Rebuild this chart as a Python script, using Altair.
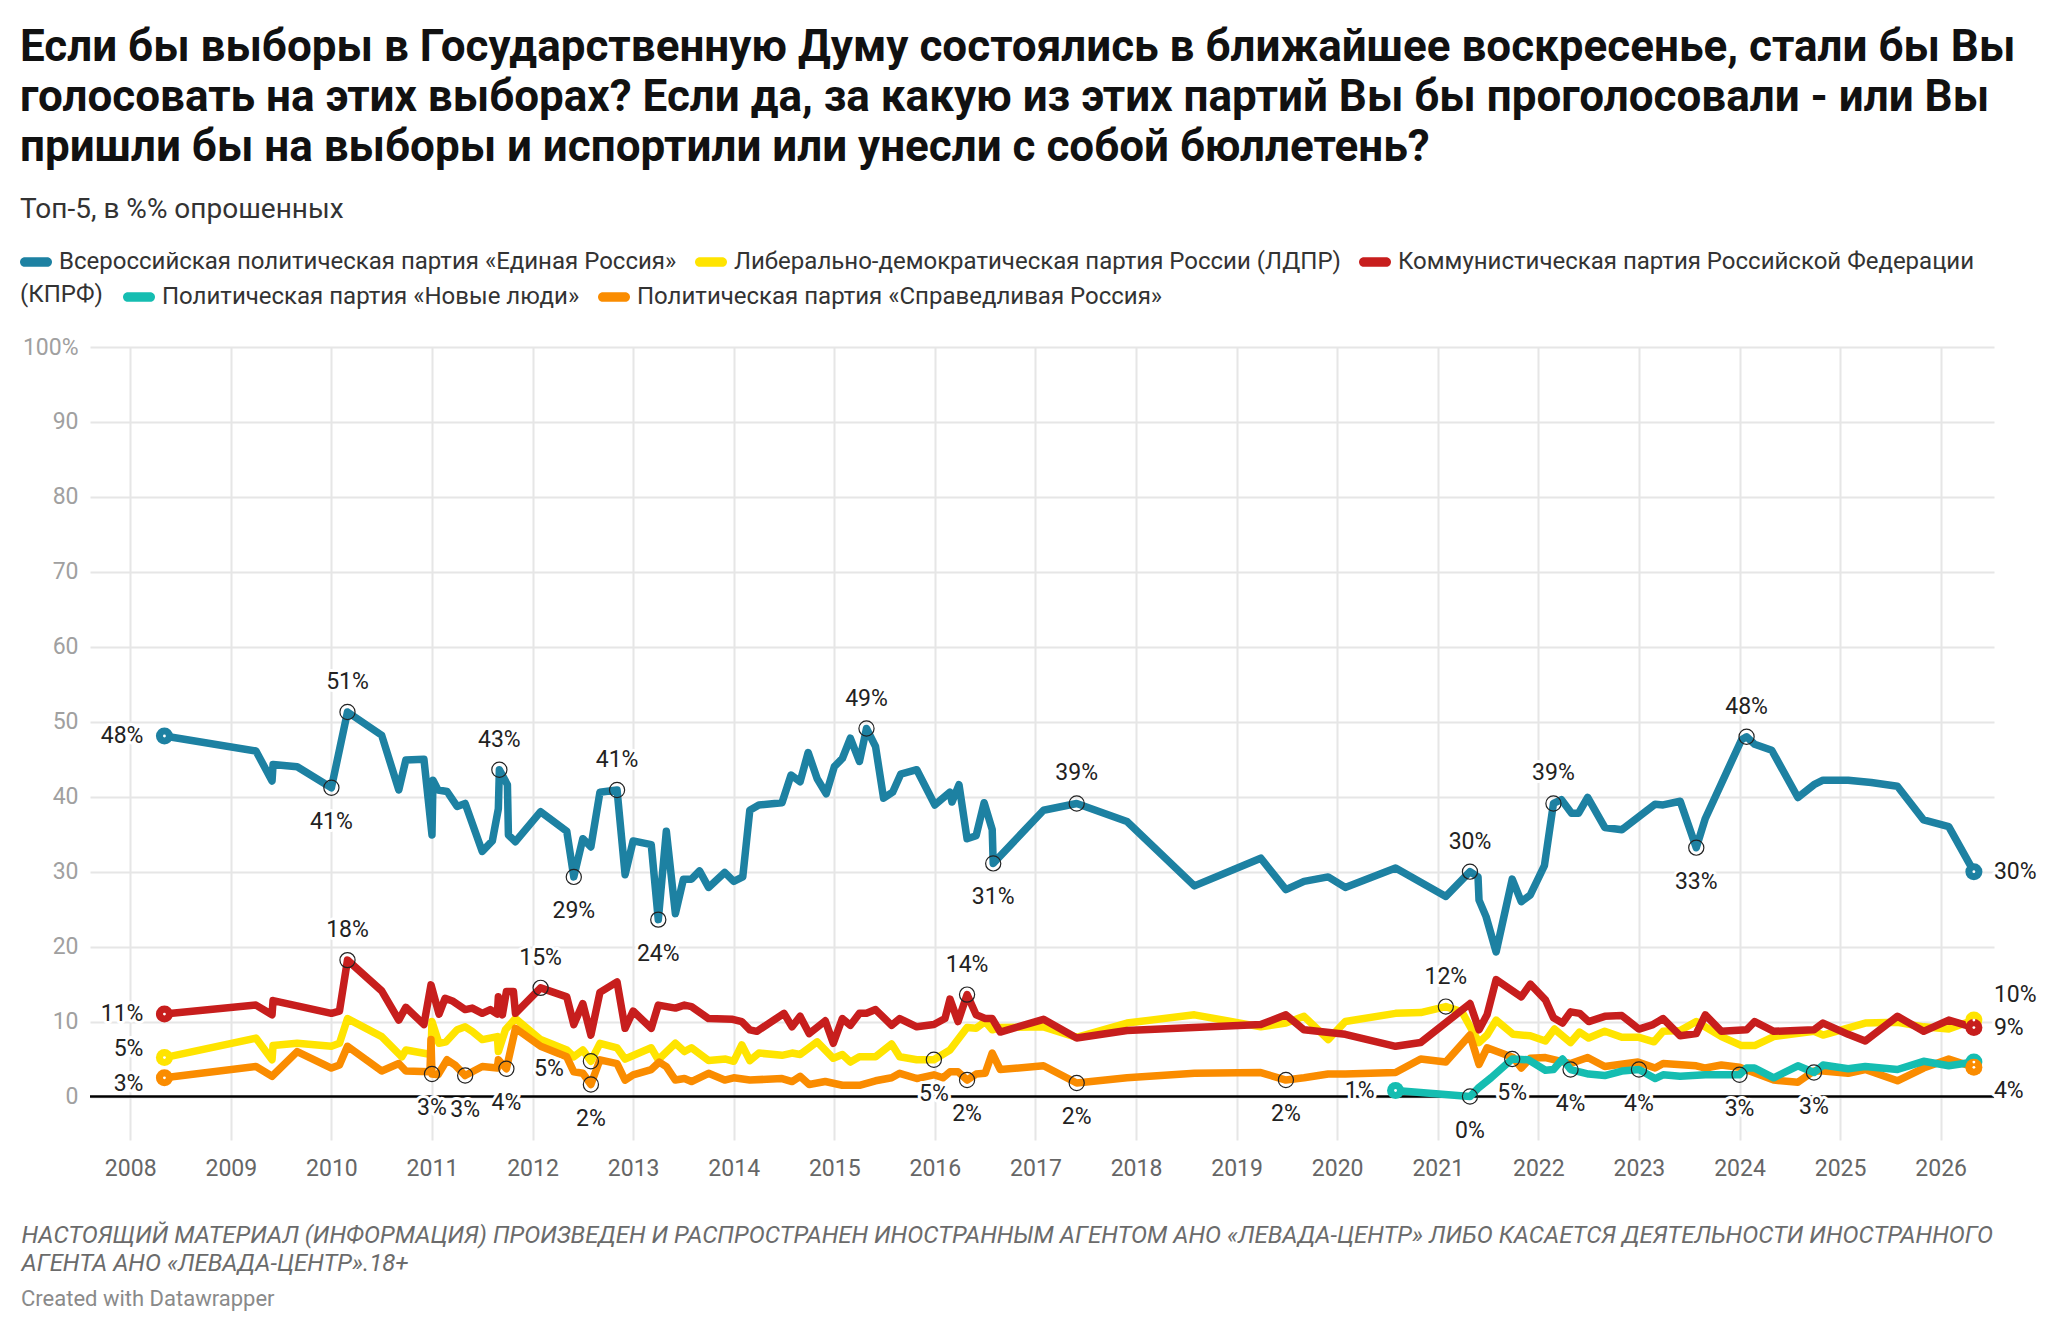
import altair as alt
import pandas as pd

# ---------------- data ----------------
series_names = [
    "Всероссийская политическая партия «Единая Россия»",
    "Либерально-демократическая партия России (ЛДПР)",
    "Коммунистическая партия Российской Федерации (КПРФ)",
    "Политическая партия «Новые люди»",
    "Политическая партия «Справедливая Россия»",
]
series_colors = ["#1d81a2", "#ffe400", "#c71e1d", "#15bdb1", "#fa8c00"]

er_dates = [2008.34, 2009.25, 2009.41, 2009.42, 2009.66, 2010.0, 2010.16, 2010.5, 2010.67, 2010.74,
            2010.92, 2011.0, 2011.01, 2011.06, 2011.15, 2011.25, 2011.33, 2011.5, 2011.6, 2011.66,
            2011.67, 2011.75, 2011.76, 2011.83, 2012.08, 2012.34, 2012.41, 2012.5, 2012.58, 2012.67,
            2012.84, 2012.92, 2013.0, 2013.18, 2013.25, 2013.33, 2013.42, 2013.5, 2013.58, 2013.66,
            2013.75, 2013.91, 2014.0, 2014.09, 2014.16, 2014.25, 2014.48, 2014.57, 2014.66, 2014.74,
            2014.83, 2014.92, 2015.0, 2015.08, 2015.16, 2015.25, 2015.32, 2015.41, 2015.49, 2015.58,
            2015.66, 2015.82, 2016.0, 2016.15, 2016.17, 2016.24, 2016.32, 2016.41, 2016.49, 2016.57,
            2016.58, 2017.08, 2017.41, 2017.91, 2018.58, 2019.24, 2019.49, 2019.67, 2019.91, 2020.08,
            2020.58, 2021.08, 2021.32, 2021.4, 2021.41, 2021.48, 2021.58, 2021.74, 2021.83, 2021.92,
            2022.06, 2022.15, 2022.23, 2022.33, 2022.4, 2022.49, 2022.66, 2022.83, 2023.16, 2023.24,
            2023.41, 2023.57, 2023.66, 2024.02, 2024.07, 2024.15, 2024.32, 2024.58, 2024.74, 2024.83,
            2025.08, 2025.31, 2025.57, 2025.83, 2026.08, 2026.33]
er_values = [48.1, 46.1, 42.1, 44.3, 44.0, 41.2, 51.3, 48.2, 40.9, 44.9,
             45.0, 34.9, 42.2, 40.9, 40.7, 38.7, 39.1, 32.7, 34.1, 38.4,
             43.6, 41.6, 34.9, 34.0, 38.0, 35.4, 29.3, 34.4, 33.3, 40.6,
             40.9, 29.6, 34.1, 33.6, 23.6, 35.4, 24.4, 29.0, 29.0, 30.1,
             27.9, 29.9, 28.7, 29.3, 38.2, 38.9, 39.2, 42.9, 42.0, 45.9,
             42.4, 40.4, 44.0, 45.1, 47.8, 44.7, 49.1, 46.7, 39.8, 40.6,
             43.0, 43.6, 38.9, 40.6, 39.3, 41.6, 34.4, 34.8, 39.2, 35.6,
             31.1, 38.2, 39.1, 36.7, 28.1, 31.8, 27.6, 28.7, 29.3, 27.9,
             30.5, 26.7, 30.0, 29.3, 26.2, 24.0, 19.3, 29.0, 26.0, 26.9,
             30.8, 39.1, 39.6, 37.8, 37.8, 39.9, 35.9, 35.6, 39.0, 38.9,
             39.4, 33.2, 37.1, 47.6, 48.0, 47.0, 46.2, 39.9, 41.6, 42.2,
             42.2, 41.9, 41.4, 36.9, 36.0, 30.0]

ldpr_dates = [2008.34, 2009.25, 2009.41, 2009.42, 2009.66, 2010.0, 2010.08, 2010.16, 2010.5, 2010.7,
              2010.74, 2010.99, 2011.0, 2011.07, 2011.14, 2011.25, 2011.33, 2011.4, 2011.5, 2011.65,
              2011.66, 2011.73, 2011.83, 2012.08, 2012.34, 2012.41, 2012.5, 2012.58, 2012.67, 2012.84,
              2012.92, 2013.18, 2013.25, 2013.42, 2013.51, 2013.58, 2013.75, 2013.92, 2014.0, 2014.08,
              2014.16, 2014.25, 2014.48, 2014.58, 2014.66, 2014.83, 2014.99, 2015.08, 2015.16, 2015.25,
              2015.41, 2015.57, 2015.65, 2015.82, 2015.99, 2016.15, 2016.32, 2016.41, 2016.5, 2016.57,
              2016.65, 2017.08, 2017.41, 2017.91, 2018.58, 2019.24, 2019.49, 2019.67, 2019.91, 2020.08,
              2020.58, 2020.83, 2021.08, 2021.24, 2021.41, 2021.49, 2021.58, 2021.75, 2021.92, 2022.07,
              2022.16, 2022.32, 2022.41, 2022.5, 2022.66, 2022.83, 2023.0, 2023.15, 2023.24, 2023.41,
              2023.57, 2023.82, 2024.02, 2024.15, 2024.34, 2024.74, 2024.83, 2025.25, 2025.57, 2025.83,
              2026.08, 2026.33]
ldpr_values = [5.2, 7.8, 4.9, 6.8, 7.1, 6.7, 7.1, 10.4, 8.0, 5.3,
               6.2, 5.6, 10.0, 7.1, 7.3, 8.9, 9.3, 8.7, 7.6, 8.0,
               6.0, 8.9, 10.4, 7.6, 6.2, 5.3, 6.2, 4.7, 7.1, 6.5,
               5.0, 6.5, 4.9, 7.1, 6.0, 6.5, 4.8, 5.0, 4.7, 6.9,
               4.8, 5.8, 5.5, 5.8, 5.6, 7.3, 5.1, 5.6, 4.6, 5.3,
               5.3, 7.0, 5.3, 4.9, 4.9, 6.2, 9.2, 9.1, 10.0, 8.9,
               9.2, 9.3, 7.9, 9.8, 10.9, 9.3, 9.8, 10.7, 7.6, 10.0,
               11.1, 11.2, 12.0, 11.3, 7.2, 8.2, 10.2, 8.3, 8.1, 7.4,
               9.0, 7.2, 8.6, 7.8, 8.7, 7.9, 7.9, 7.3, 8.7, 8.8,
               10.0, 8.0, 6.8, 6.8, 8.0, 8.7, 8.2, 9.8, 9.9, 9.3,
               9.0, 10.2]

kprf_dates = [2008.34, 2009.25, 2009.41, 2009.42, 2009.66, 2010.0, 2010.08, 2010.16, 2010.5, 2010.67,
              2010.74, 2010.92, 2010.99, 2011.07, 2011.13, 2011.21, 2011.33, 2011.4, 2011.5, 2011.58,
              2011.65, 2011.66, 2011.7, 2011.74, 2011.81, 2011.83, 2012.08, 2012.34, 2012.41, 2012.5,
              2012.58, 2012.67, 2012.84, 2012.92, 2013.0, 2013.18, 2013.25, 2013.42, 2013.51, 2013.58,
              2013.75, 2013.99, 2014.08, 2014.16, 2014.23, 2014.5, 2014.58, 2014.66, 2014.75, 2014.91,
              2014.99, 2015.08, 2015.16, 2015.25, 2015.32, 2015.41, 2015.57, 2015.65, 2015.82, 2015.99,
              2016.1, 2016.15, 2016.23, 2016.32, 2016.41, 2016.5, 2016.57, 2016.65, 2017.08, 2017.41,
              2017.91, 2019.24, 2019.49, 2019.67, 2020.08, 2020.58, 2020.83, 2021.32, 2021.41, 2021.49,
              2021.58, 2021.83, 2021.92, 2022.07, 2022.15, 2022.24, 2022.32, 2022.41, 2022.5, 2022.66,
              2022.83, 2023.0, 2023.14, 2023.24, 2023.41, 2023.57, 2023.66, 2023.82, 2024.07, 2024.15,
              2024.34, 2024.74, 2024.83, 2025.08, 2025.25, 2025.57, 2025.83, 2026.08, 2026.33]
kprf_values = [11.0, 12.2, 10.9, 12.8, 12.1, 11.1, 11.4, 18.2, 14.1, 10.2,
               11.9, 9.6, 14.9, 11.0, 13.1, 12.7, 11.6, 11.8, 11.1, 11.6,
               11.0, 13.3, 10.9, 14.0, 14.0, 11.1, 14.5, 13.3, 9.6, 12.4,
               8.2, 13.9, 15.3, 9.1, 11.4, 9.1, 12.2, 11.8, 12.2, 12.0,
               10.4, 10.3, 10.0, 8.9, 8.7, 11.1, 9.3, 10.7, 8.4, 10.1,
               7.1, 10.4, 9.5, 11.1, 11.1, 11.6, 9.5, 10.4, 9.3, 9.6,
               10.4, 13.0, 10.0, 13.6, 10.9, 10.4, 10.4, 8.6, 10.3, 7.8,
               8.8, 9.6, 10.9, 8.9, 8.3, 6.7, 7.2, 12.4, 8.9, 10.9,
               15.6, 13.3, 15.0, 12.9, 10.5, 9.8, 11.3, 11.1, 10.0, 10.7,
               10.8, 9.0, 9.6, 10.4, 8.1, 8.4, 10.9, 8.7, 8.9, 10.0,
               8.7, 8.9, 9.8, 8.3, 7.4, 10.7, 8.7, 10.2, 9.2]

nl_dates = [2020.58, 2021.32, 2021.4, 2021.53, 2021.74, 2021.9, 2022.07, 2022.15, 2022.24, 2022.32,
            2022.5, 2022.66, 2022.83, 2023.0, 2023.16, 2023.24, 2023.41, 2023.66, 2024.0, 2024.07,
            2024.15, 2024.34, 2024.58, 2024.74, 2024.83, 2025.08, 2025.25, 2025.57, 2025.83, 2026.08,
            2026.33]
nl_values = [0.8, 0.0, 1.1, 2.5, 5.0, 4.9, 3.5, 3.6, 5.0, 3.6,
             3.0, 2.8, 3.4, 3.6, 2.4, 2.9, 2.7, 2.9, 2.9, 3.8,
             3.8, 2.5, 4.1, 3.2, 4.2, 3.7, 4.0, 3.6, 4.7, 4.1,
             4.6]

sr_dates = [2008.34, 2009.25, 2009.41, 2009.66, 2010.0, 2010.08, 2010.16, 2010.5, 2010.67, 2010.74,
            2010.98, 2010.99, 2011.0, 2011.06, 2011.15, 2011.23, 2011.33, 2011.5, 2011.65, 2011.66,
            2011.74, 2011.83, 2012.08, 2012.34, 2012.41, 2012.5, 2012.58, 2012.67, 2012.84, 2012.92,
            2013.0, 2013.18, 2013.26, 2013.33, 2013.42, 2013.51, 2013.58, 2013.75, 2013.91, 2014.0,
            2014.16, 2014.48, 2014.58, 2014.66, 2014.75, 2014.91, 2015.08, 2015.25, 2015.41, 2015.57,
            2015.65, 2015.82, 2015.99, 2016.08, 2016.15, 2016.23, 2016.32, 2016.41, 2016.5, 2016.57,
            2016.65, 2017.08, 2017.41, 2017.91, 2018.58, 2019.24, 2019.49, 2019.67, 2019.91, 2020.08,
            2020.58, 2020.83, 2021.08, 2021.32, 2021.41, 2021.49, 2021.75, 2021.83, 2021.92, 2022.07,
            2022.32, 2022.49, 2022.66, 2022.99, 2023.16, 2023.24, 2023.57, 2023.66, 2023.82, 2024.0,
            2024.34, 2024.58, 2024.74, 2024.83, 2025.08, 2025.25, 2025.57, 2025.83, 2026.08, 2026.33]
sr_values = [2.5, 4.0, 2.7, 6.0, 3.8, 4.2, 6.7, 3.4, 4.4, 3.4,
             3.3, 7.6, 3.0, 2.9, 4.9, 4.2, 2.8, 4.0, 3.8, 4.9,
             3.7, 9.1, 6.7, 5.3, 3.3, 3.1, 1.6, 4.9, 4.4, 2.2,
             2.9, 3.6, 4.6, 4.0, 2.2, 2.4, 2.0, 3.1, 2.2, 2.5,
             2.2, 2.4, 2.0, 2.7, 1.6, 2.0, 1.5, 1.5, 2.1, 2.5,
             3.1, 2.4, 2.9, 2.5, 3.3, 3.3, 2.2, 3.0, 3.1, 5.8,
             3.6, 4.1, 1.8, 2.5, 3.1, 3.2, 2.2, 2.5, 3.0, 3.0,
             3.2, 5.0, 4.6, 8.2, 4.3, 6.5, 5.2, 3.8, 5.1, 5.2,
             4.4, 5.2, 4.0, 4.6, 3.8, 4.4, 4.1, 3.8, 4.2, 3.9,
             2.2, 1.9, 3.4, 3.4, 3.1, 3.6, 2.1, 3.8, 5.0, 3.9]

# value labels (highlighted points, first and last values)
ann_series = ([series_names[0]] * 15 + [series_names[2]] * 5 + [series_names[1]] * 5
              + [series_names[4]] * 9 + [series_names[3]] * 7)
ann_date = [2008.34, 2010.16, 2010.0, 2011.67, 2012.41, 2012.84, 2013.25, 2015.32, 2016.58, 2017.41,
            2021.32, 2022.15, 2023.57, 2024.07, 2026.33,
            2008.34, 2010.16, 2012.08, 2016.32, 2026.33,
            2008.34, 2012.58, 2015.99, 2021.08, 2026.33,
            2008.34, 2011.0, 2011.33, 2011.74, 2012.58, 2016.32, 2017.41, 2019.49, 2026.33,
            2020.58, 2021.32, 2021.74, 2022.32, 2023.0, 2024.0, 2024.74]
ann_value = [48.1, 51.3, 41.2, 43.6, 29.3, 40.9, 23.6, 49.1, 31.1, 39.1,
             30.0, 39.1, 33.2, 48.0, 30.0,
             11.0, 18.2, 14.5, 13.6, 9.2,
             5.2, 4.7, 4.9, 12.0, 10.2,
             2.5, 3.0, 2.8, 3.7, 1.6, 2.2, 1.8, 2.2, 3.9,
             0.8, 0.0, 5.0, 3.6, 3.6, 2.9, 3.2]
ann_text = ["48%", "51%", "41%", "43%", "29%", "41%", "24%", "49%", "31%", "39%",
            "30%", "39%", "33%", "48%", "30%",
            "11%", "18%", "15%", "14%", "9%",
            "5%", "5%", "5%", "12%", "10%",
            "3%", "3%", "3%", "4%", "2%", "2%", "2%", "2%", "4%",
            "1%", "0%", "5%", "4%", "4%", "3%", "3%"]
ann_pos = ["start", "above", "below", "above", "below", "above", "below", "above", "below", "above",
           "above", "above", "below", "above", "end",
           "start", "above", "above", "above", "end",
           "start_up", "left", "below", "above", "end_up",
           "start_down", "below", "below", "below", "below", "below", "below", "below", "end_down",
           "start", "below", "below", "below", "below", "below", "below"]

title_lines = [
    "Если бы выборы в Государственную Думу состоялись в ближайшее воскресенье, стали бы Вы",
    "голосовать на этих выборах? Если да, за какую из этих партий Вы бы проголосовали - или Вы",
    "пришли бы на выборы и испортили или унесли с собой бюллетень?",
]
subtitle_text = "Топ-5, в %% опрошенных"
note_lines = [
    "НАСТОЯЩИЙ МАТЕРИАЛ (ИНФОРМАЦИЯ) ПРОИЗВЕДЕН И РАСПРОСТРАНЕН ИНОСТРАННЫМ АГЕНТОМ АНО «ЛЕВАДА-ЦЕНТР» ЛИБО КАСАЕТСЯ ДЕЯТЕЛЬНОСТИ ИНОСТРАННОГО",
    "АГЕНТА АНО «ЛЕВАДА-ЦЕНТР».18+",
]
credit_text = "Created with Datawrapper"
year_ticks = list(range(2008, 2027))
pct_ticks = list(range(0, 101, 10))

# ---------------- tables ----------------
series_data = [
    (series_names[0], er_dates, er_values),
    (series_names[1], ldpr_dates, ldpr_values),
    (series_names[2], kprf_dates, kprf_values),
    (series_names[3], nl_dates, nl_values),
    (series_names[4], sr_dates, sr_values),
]
frames = []
for name, d, v in series_data:
    frames.append(pd.DataFrame({"party": name, "date": d, "value": v}))
lines_df = pd.concat(frames, ignore_index=True)

ends_df = pd.concat(
    [lines_df.sort_values("date").groupby("party").head(1),
     lines_df.sort_values("date").groupby("party").tail(1)],
    ignore_index=True,
)

ann_df = pd.DataFrame({"party": ann_series, "date": ann_date, "value": ann_value,
                       "label": ann_text, "pos": ann_pos})
zero_df = pd.DataFrame({"value": [0]})

group_a = series_names[:3]          # legend row 1
group_b = series_names[3:]          # legend row 2 (after the wrapped "(КПРФ)")
colors_a = series_colors[:3]
colors_b = series_colors[3:]

# ---------------- encodings ----------------
FONT = "Roboto"
LEG_FS = 24
xscale = alt.Scale(domain=[2007.6, 2026.53], nice=False, zero=False)
yscale = alt.Scale(domain=[-5.8, 100], nice=False, zero=False)

x_axis = alt.Axis(values=year_ticks, format="d", grid=True, gridColor="#e6e6e6", gridWidth=2,
                  domain=False, ticks=False, labelPadding=17, labelFont=FONT, labelFontSize=23,
                  labelColor="#666666", title=note_lines, titleFont=FONT, titleFontSize=24,
                  titleFontStyle="italic", titleFontWeight="normal", titleColor="#6b6b6b",
                  titleAnchor="start", titleAlign="left", titleBaseline="alphabetic",
                  titleX=-69, titleY=102, titleLineHeight=28)
y_axis = alt.Axis(values=pct_ticks, grid=True, gridColor="#e6e6e6", gridWidth=2, domain=False,
                  ticks=False, labelPadding=12, labelFont=FONT, labelFontSize=23,
                  labelColor="#a0a0a0", title=None,
                  labelExpr="datum.value == 100 ? '100%' : datum.label")

X = alt.X("date:Q", scale=xscale, axis=x_axis)
Y = alt.Y("value:Q", scale=yscale, axis=y_axis)

PILL = "M-0.7,-0.3 L0.7,-0.3 A0.3,0.3 0 0 1 0.7,0.3 L-0.7,0.3 A0.3,0.3 0 0 1 -0.7,-0.3 Z"
leg_common = dict(orient="none", legendX=-70, direction="horizontal", symbolType=PILL,
                  symbolSize=1024, symbolStrokeWidth=0, symbolOpacity=1, labelFont=FONT,
                  labelFontSize=LEG_FS, labelColor="#333333", labelLimit=0, labelOffset=7,
                  padding=0)
legend_a = alt.Legend(title=None, legendY=-101, columnPadding=18,
                      labelExpr="replace(datum.label, ' (КПРФ)', '')", **leg_common)
legend_b = alt.Legend(title="(КПРФ)", titleOrient="left", titleFont=FONT, titleFontSize=LEG_FS,
                      titleFontWeight="normal", titleColor="#333333", titlePadding=20,
                      titleBaseline="middle", titleAnchor="middle", legendY=-66,
                      columnPadding=18, **leg_common)

scale_b = alt.Scale(domain=group_b, range=colors_b)
C_A = alt.Color("party:N", scale=alt.Scale(domain=group_a, range=colors_a), legend=legend_a)
S_B = alt.Stroke("party:N", scale=scale_b, legend=legend_b)
F_B = alt.Fill("party:N", scale=scale_b, legend=legend_b)

layers = []
layers.append(alt.Chart(zero_df).mark_rule(color="#000000", strokeWidth=2.5).encode(y=Y))

draw_order = [series_names[1], series_names[4], series_names[2], series_names[3], series_names[0]]
for name in draw_order:
    base = (alt.Chart(lines_df).transform_filter(alt.datum.party == name)
            .mark_line(strokeWidth=7.5, strokeJoin="round", strokeCap="round"))
    if name in group_a:
        layers.append(base.encode(x=X, y=Y, color=C_A))
    else:
        layers.append(base.encode(x=X, y=Y, stroke=S_B))

layers.append(
    alt.Chart(ends_df).transform_filter(alt.FieldOneOfPredicate(field="party", oneOf=group_b))
    .mark_circle(size=290, opacity=1).encode(x=X, y=Y, fill=F_B)
)
layers.append(
    alt.Chart(ends_df).transform_filter(alt.FieldOneOfPredicate(field="party", oneOf=group_a))
    .mark_circle(size=290, opacity=1).encode(x=X, y=Y, color=C_A)
)
layers.append(
    alt.Chart(ends_df).mark_circle(size=8, opacity=1, color="white").encode(x=X, y=Y)
)
layers.append(
    alt.Chart(ann_df).transform_filter(alt.FieldOneOfPredicate(field="pos", oneOf=["above", "below", "left"]))
    .mark_point(shape="circle", filled=False, size=230, opacity=1, color="#222222", strokeWidth=1.2)
    .encode(x=X, y=Y)
)

offsets = {
    "above": (0, -30, "center"),
    "below": (0, 34, "center"),
    "left": (-27, 8, "right"),
    "start": (-21, 0, "right"),
    "start_up": (-21, -9, "right"),
    "start_down": (-21, 6, "right"),
    "end": (20, 0, "left"),
    "end_up": (20, -25, "left"),
    "end_down": (20, 24, "left"),
}
for pos, (dx, dy, al) in offsets.items():
    base = alt.Chart(ann_df).transform_filter(alt.datum.pos == pos)
    common = dict(dx=dx, dy=dy, align=al, baseline="middle", font=FONT, fontSize=23)
    layers.append(base.mark_text(color="white", stroke="white", strokeWidth=6,
                                 strokeJoin="round", **common)
                  .encode(x=X, y=Y, text="label:N"))
    layers.append(base.mark_text(color="#222222", **common)
                  .encode(x=X, y=Y, text="label:N"))

inner = alt.layer(*layers).properties(
    width=1904, height=793,
    title=alt.TitleParams(credit_text, orient="bottom", anchor="start", frame="bounds",
                          font=FONT, fontSize=22, fontWeight="normal", color="#8a8a8a",
                          offset=14),
)

chart = alt.vconcat(inner).properties(
    title=alt.TitleParams(title_lines, subtitle=subtitle_text, anchor="start", frame="bounds",
                          font=FONT, fontSize=44, fontWeight="bold", color="#111111",
                          lineHeight=50, subtitleFont=FONT, subtitleFontSize=28,
                          subtitleColor="#333333", subtitlePadding=26, offset=22),
    padding={"left": 12, "top": 18, "right": 4, "bottom": 4},
    background="white",
).configure_view(stroke=None).configure_concat(spacing=0)

chart.save("out.html", embed_options={"renderer": "svg", "actions": False})
